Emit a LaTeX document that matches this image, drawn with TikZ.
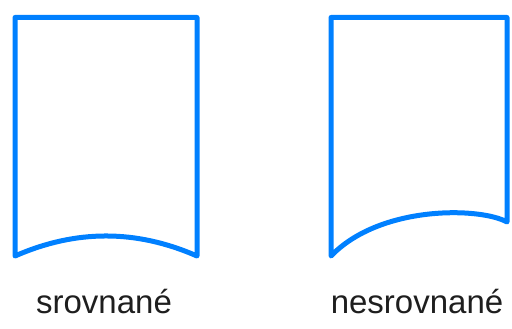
\documentclass[tikz,border=0pt]{standalone}
\usepackage{fontspec}
\setmainfont{Liberation Sans}
\definecolor{docblue}{RGB}{0,128,255}
\definecolor{labelgray}{RGB}{30,30,30}
\begin{document}
\begin{tikzpicture}[x=1pt,y=-1pt,
  docshape/.style={draw=docblue,line width=5pt,line join=round,fill=white},
  doclabel/.style={font=\fontsize{33}{40}\selectfont,text=labelgray,anchor=base,inner sep=0pt}]
\useasboundingbox (0,0) rectangle (512,329);
% aligned document
\draw[docshape] (15,17.5) -- (197,17.5) -- (197,256)
  .. controls (136,229.3) and (76,229.3) .. (15,256) -- cycle;
% misaligned document
\draw[docshape] (331,17.5) -- (507,17.5) -- (507,222)
  .. controls (480,207) and (380,205) .. (331,256) -- cycle;
\node[doclabel] (l1) at (104,313) {srovnané};
\node[doclabel] (l2) at (417,313) {nesrovnané};
\end{tikzpicture}
\end{document}
